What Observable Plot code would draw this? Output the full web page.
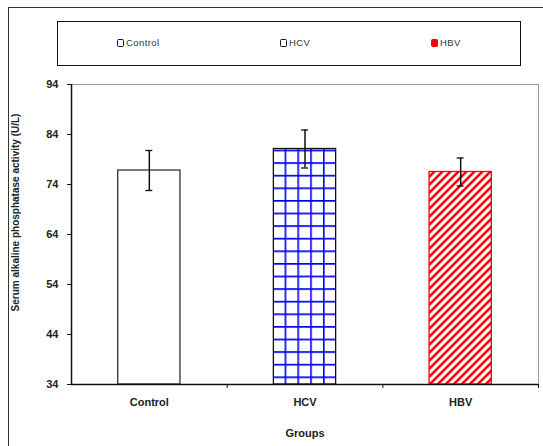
<!DOCTYPE html>
<html><head><meta charset="utf-8">
<script src="https://cdn.jsdelivr.net/npm/d3@7"></script>
<script src="https://cdn.jsdelivr.net/npm/@observablehq/plot@0.6"></script>
<style>
body{margin:0;background:#fff;font-family:"Liberation Sans",Arial,sans-serif;}
#wrap{position:relative;width:543px;height:446px;overflow:hidden;}
#outer{position:absolute;left:8px;top:7px;width:540px;height:450px;border-left:1.5px solid #333;border-top:1.5px solid #333;}
#legend{position:absolute;left:57px;top:21px;width:462px;height:43px;border:1.5px solid #111;}
.li{position:absolute;top:16px;font-size:9.5px;letter-spacing:0.4px;color:#333;line-height:10px;white-space:nowrap;}
.sw{display:inline-block;width:5px;height:6px;border:1.5px solid #111;border-radius:1.5px;vertical-align:top;margin-top:1px;margin-right:2px;background:#fff;}
#chart{position:absolute;left:0;top:70px;}
</style></head>
<body><div id="wrap"><div id="outer"></div>
<div id="legend"></div>
<div id="chart"></div></div>
<script>
const groups = ["Control", "HCV", "HBV"];
const means = [76.8, 81.1, 76.5];
const errs = [4.0, 3.8, 2.8];
const yTicks = [34, 44, 54, 64, 74, 84, 94];
const yLabel = "Serum alkaline phosphatase activity (U/L)";
const xLabel = "Groups";

const data = groups.map((g, i) => ({group: g, i, mean: means[i], err: errs[i]}));
const fillFor = {Control: "#fff", HCV: "url(#gridpat)", HBV: "url(#stripepat)"};
const strokeFor = {Control: "#333", HCV: "#111", HBV: "#f00"};

// legend
const leg = document.getElementById("legend");
const legX = [59, 222, 373];
groups.forEach((g, i) => {
  const d = document.createElement("div");
  d.className = "li";
  d.style.left = legX[i] + "px";
  const s = document.createElement("span");
  s.className = "sw";
  if (g === "HBV") { s.style.background = "#f00"; s.style.borderColor = "#e00"; }
  d.appendChild(s);
  d.appendChild(document.createTextNode(g));
  leg.appendChild(d);
});

const defs = () => {
  const svg = d3.create("svg:g");
  const df = svg.append("defs");
  const gp = df.append("pattern").attr("id", "gridpat").attr("patternUnits", "userSpaceOnUse")
    .attr("width", 12.8).attr("height", 12.6).attr("x", 3).attr("y", 4);
  gp.append("rect").attr("width", 12.8).attr("height", 12.6).attr("fill", "#fff");
  gp.append("path").attr("d", "M0.8,0V12.6M0,0.8H12.8").attr("stroke", "#0000ff").attr("stroke-width", 1.6);
  const sp = df.append("pattern").attr("id", "stripepat").attr("patternUnits", "userSpaceOnUse")
    .attr("width", 8).attr("height", 8);
  sp.append("rect").attr("width", 8).attr("height", 8).attr("fill", "#fff");
  sp.append("path").attr("d", "M-2,2L2,-2M0,8L8,0M6,10L10,6").attr("stroke", "#f00").attr("stroke-width", 2.6);
  return svg.node();
};

const plot = Plot.plot({
  width: 543, height: 376,
  marginTop: 14, marginBottom: 62, marginLeft: 71, marginRight: 5,
  style: {fontFamily: "Liberation Sans, Arial, sans-serif", color: "#222", background: "transparent"},
  x: {domain: [0, 3], axis: null},
  y: {domain: [34, 94], axis: null},
  marks: [
    defs,
    Plot.frame({stroke: "#999", strokeWidth: 1}),
    Plot.rectY(data, {x1: d => d.i + 0.3, x2: d => d.i + 0.7, y1: 34, y2: "mean",
      fill: d => fillFor[d.group], stroke: d => strokeFor[d.group], strokeWidth: 1.3}),
    Plot.ruleX(data, {x: d => d.i + 0.5, y1: d => d.mean - d.err, y2: d => d.mean + d.err, stroke: "#111", strokeWidth: 1.5}),
    Plot.ruleY(data, {y: d => d.mean + d.err, x1: d => d.i + 0.5, x2: d => d.i + 0.5, insetLeft: -3.5, insetRight: -3.5, stroke: "#111", strokeWidth: 1.3}),
    Plot.ruleY(data, {y: d => d.mean - d.err, x1: d => d.i + 0.5, x2: d => d.i + 0.5, insetLeft: -3.5, insetRight: -3.5, stroke: "#111", strokeWidth: 1.3}),
    Plot.ruleX([0], {stroke: "#111", strokeWidth: 1.5}),
    Plot.ruleY([34], {stroke: "#111", strokeWidth: 1.5}),
    Plot.axisY({ticks: yTicks, tickSize: 4, tickPadding: 9, fontSize: 11, fontWeight: "bold", label: null, stroke: "#111"}),
    Plot.axisX({ticks: [1, 2, 3], tickSize: 4, tickFormat: () => "", label: null, stroke: "#111"}),
    Plot.axisX({ticks: [0.5, 1.5, 2.5], tickSize: 0, tickPadding: 14, fontSize: 11, fontWeight: "bold", label: null, tickFormat: v => groups[Math.floor(v)], style: {letterSpacing: "0.5px"}}),
    Plot.text([yLabel], {frameAnchor: "left", textAnchor: "middle", dx: -56, dy: -22, rotate: -90, fontSize: 10, fontWeight: "bold", fill: "#222", style: {letterSpacing: "0.8px"}}),
    Plot.text([xLabel], {frameAnchor: "bottom", dy: 52, fontSize: 11, fontWeight: "bold", fill: "#222", style: {letterSpacing: "0.5px"}})
  ]
});
document.getElementById("chart").appendChild(plot);
</script></body></html>
